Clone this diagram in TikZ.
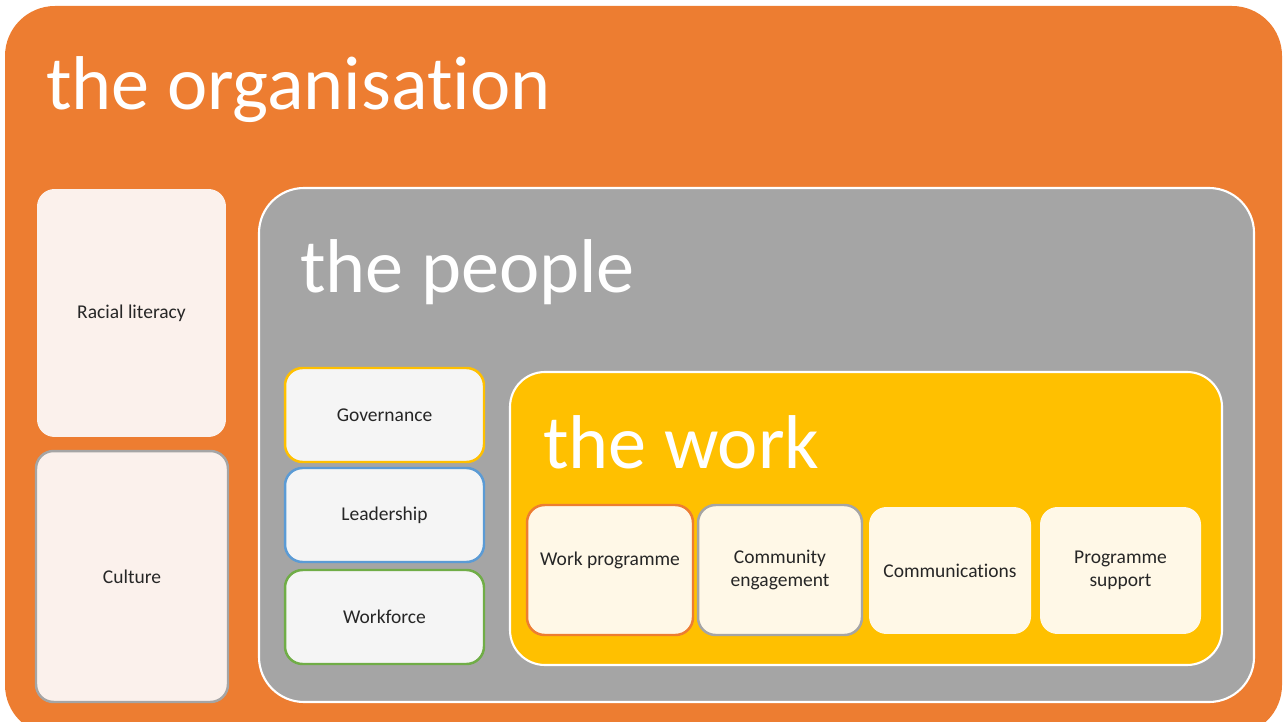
\documentclass[tikz,border=0pt]{standalone}
\usepackage{fontspec}
\setmainfont{Carlito}[Ligatures=NoCommon]
\usepackage{tikz}
\usetikzlibrary{positioning}

\definecolor{orgorange}{HTML}{ED7D31}
\definecolor{pplgray}{HTML}{A5A5A5}
\definecolor{workgold}{HTML}{FFC000}
\definecolor{leadblue}{HTML}{5B9BD5}
\definecolor{forcegreen}{HTML}{70AD47}
\definecolor{orgfill}{HTML}{FBF1EC}
\definecolor{pplfill}{HTML}{F5F5F5}
\definecolor{workfill}{HTML}{FFF8E7}
\definecolor{txt}{HTML}{262626}

\tikzset{
  layer/.style={draw=white,line width=1.2pt,rounded corners=#1},
  title/.style={text=white,anchor=base west,inner sep=0pt,font=\fontsize{43.4}{45}\selectfont},
  item/.style={rounded corners=0.35cm,line width=1.4pt,text=txt,align=center,
    font=\fontsize{11.1}{13}\selectfont}
}

\begin{document}
\begin{tikzpicture}[x=0.02cm,y=-0.02cm]
\useasboundingbox (0,0) rectangle (1283,722);
% the three nested layers
\fill[orgorange,rounded corners=1cm] (5,6) rectangle (1282,735);
\draw[layer=0.9cm,fill=pplgray] (259,188) rectangle (1254,702);
\draw[layer=0.7cm,fill=workgold] (510,372) rectangle (1222,665);
\node[title] (org) at (46,110) {the organisation};
\node[title] (ppl) at (300,293) {the people};
\node[title] (work) at (543,468) {the work};
% organisation
\node[item,fill=orgfill,minimum width=3.78cm,minimum height=4.96cm] (racial) at (131.5,313) {Racial literacy};
\node[item,fill=orgfill,draw=pplgray,minimum width=3.84cm,minimum height=5.02cm] (culture) at (132,576.5) {Culture};
% people
\node[item,fill=pplfill,draw=workgold,minimum width=3.98cm,minimum height=1.88cm] (gov) at (384.5,415) {Governance};
\node[item,fill=pplfill,draw=leadblue,minimum width=3.98cm,minimum height=1.88cm] (lead) at (384.5,515) {Leadership};
\node[item,fill=pplfill,draw=forcegreen,minimum width=3.98cm,minimum height=1.88cm] (force) at (384.5,617) {Workforce};
% work
\node[item,fill=workfill,draw=orgorange,minimum width=3.32cm,minimum height=2.6cm] (prog) at (610,570) {Work programme\\~};
\node[item,fill=workfill,draw=pplgray,minimum width=3.28cm,minimum height=2.6cm] (comm) at (780,570) {Community\\engagement};
\node[item,fill=workfill,minimum width=3.24cm,minimum height=2.54cm] (comms) at (950,570.5) {Communications};
\node[item,fill=workfill,minimum width=3.22cm,minimum height=2.54cm] (support) at (1120.5,570.5) {Programme\\support};
\end{tikzpicture}
\end{document}
